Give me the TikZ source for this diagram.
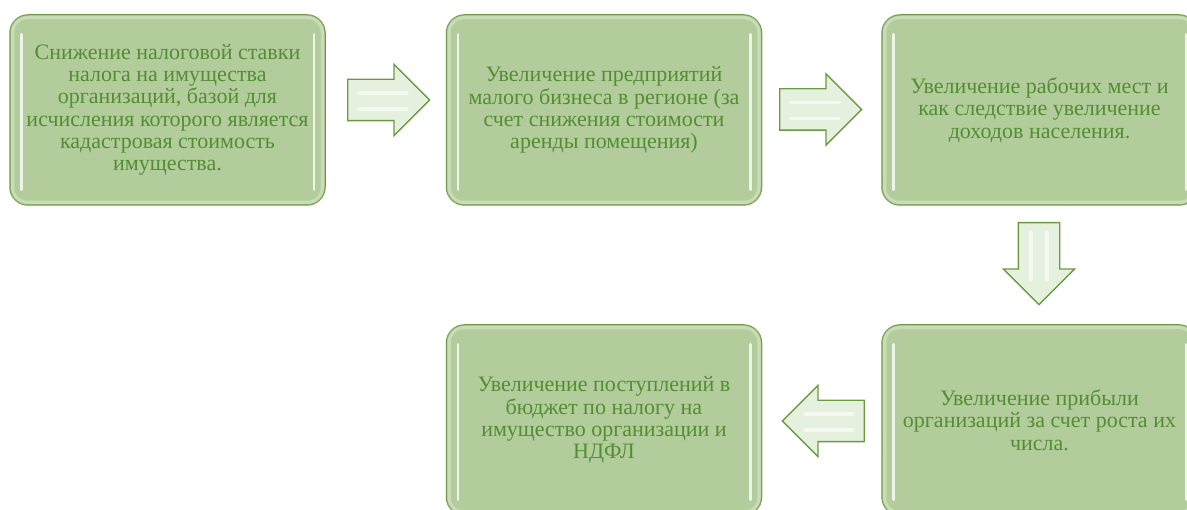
\documentclass[tikz,border=0pt]{standalone}
\usepackage{xcolor}
\usepackage{fontspec}
\setmainfont{Liberation Serif}
\usepackage{tikz}
\usetikzlibrary{calc,shapes.arrows}
\definecolor{boxfill}{HTML}{B3CC9C}
\definecolor{boxline}{HTML}{6B9B41}
\definecolor{boxtext}{HTML}{538E33}
\definecolor{arrowfill}{HTML}{E6F0DE}

\begin{document}
\begin{tikzpicture}[x=1pt,y=1pt,
  box/.style={draw=boxline,line width=1.5pt,fill=boxfill,rounded corners=18pt,
    minimum width=315pt,minimum height=190pt,align=center,text=boxtext,
    font=\fontsize{22}{22.3}\selectfont,inner sep=0pt},
  blockarrow/.style={single arrow,draw=boxline,line width=1.3pt,fill=arrowfill,
    minimum height=82pt,single arrow head extend=15pt,
    single arrow tip angle=90,inner xsep=0pt,inner ysep=20pt,anchor=tail},
  shine/.style={white,line width=2.5pt,line cap=round,opacity=0.8},
  streak/.style={white,line width=3.5pt,line cap=round,opacity=0.6},
  glow/.style={white,line width=4pt,opacity=0.3,rounded corners=15pt}]
\clip (0,0) rectangle (1187,510);
\node[box] (cut) at (167.5,400) {Снижение  налоговой ставки\\ налога на имущества\\ организаций,  базой для\\ исчисления которого является\\ кадастровая стоимость\\ имущества.};
\node[box] (firms) at (604,400) {Увеличение предприятий\\ малого бизнеса в регионе (за\\ счет снижения стоимости\\ аренды помещения)};
\node[box] (jobs) at (1039.5,400) {Увеличение рабочих мест и\\ как следствие увеличение\\ доходов населения.};
\node[box] (profit) at (1039.5,90) {Увеличение прибыли\\ организаций за счет роста их\\ числа.};
\node[box] (budget) at (604,90) {Увеличение поступлений в\\ бюджет по налогу на\\ имущество организации и\\ НДФЛ};
\foreach \b in {cut,firms,jobs,profit,budget}
{
\draw[glow] ($(\b.north west)+(3,-3)$) rectangle ($(\b.south east)+(-3,3)$);
\draw[shine] ($(\b.north west)+(12,-20)$) -- ($(\b.south west)+(12,16)$);
\draw[shine] ($(\b.north east)+(-12,-20)$) -- ($(\b.south east)+(-12,16)$);
}
\node[blockarrow] (toFirms) at (347,410) {};
\node[blockarrow] (toJobs) at (779,400.5) {};
\node[blockarrow,shape border rotate=270,inner xsep=20pt,inner ysep=0pt] (toProfit) at (1039,288) {};
\node[blockarrow,shape border rotate=180] (toBudget) at (865,89) {};
\foreach \a in {toFirms,toJobs}
{
\draw[streak] ($(\a.tail)+(12,7)$) -- ($(\a.tail)+(60,7)$);
\draw[streak] ($(\a.tail)+(12,-9)$) -- ($(\a.tail)+(60,-9)$);
}
\draw[streak] ($(toBudget.tail)+(-12,7)$) -- ($(toBudget.tail)+(-60,7)$);
\draw[streak] ($(toBudget.tail)+(-12,-9)$) -- ($(toBudget.tail)+(-60,-9)$);
\draw[streak] ($(toProfit.tail)+(-8,-10)$) -- ($(toProfit.tail)+(-8,-58)$);
\draw[streak] ($(toProfit.tail)+(8,-10)$) -- ($(toProfit.tail)+(8,-58)$);
\end{tikzpicture}
\end{document}
